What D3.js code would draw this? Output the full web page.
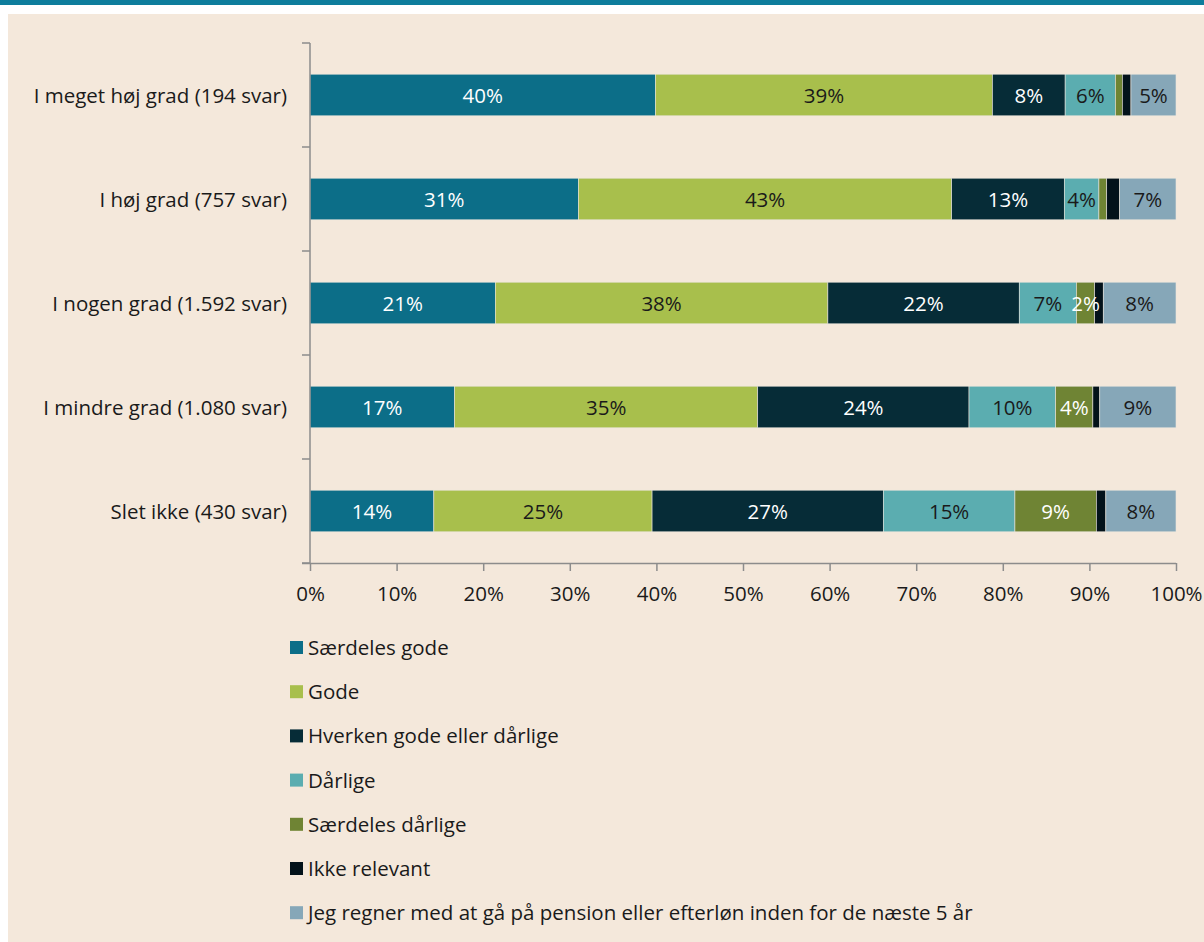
<!DOCTYPE html>
<html><head><meta charset="utf-8">
<script src="https://cdn.jsdelivr.net/npm/d3@7"></script>
<style>
html,body{margin:0;padding:0;background:#fff;}
svg{display:block;font-family:"Open Sans","Noto Sans",sans-serif;}
</style></head>
<body>
<svg id="chart" width="1204" height="942"></svg>
<script>
const categories = ["I meget høj grad (194 svar)","I høj grad (757 svar)","I nogen grad (1.592 svar)","I mindre grad (1.080 svar)","Slet ikke (430 svar)"];
const seriesNames = ["Særdeles gode","Gode","Hverken gode eller dårlige","Dårlige","Særdeles dårlige","Ikke relevant","Jeg regner med at gå på pension eller efterløn inden for de næste 5 år"];
const saerdelesGode = [39.9, 31.0, 21.4, 16.7, 14.3];
const gode = [38.9, 43.1, 38.4, 35.0, 25.2];
const hverken = [8.4, 13.0, 22.1, 24.4, 26.7];
const daarlige = [5.8, 4.0, 6.6, 10.0, 15.2];
const saerdelesDaarlige = [0.8, 0.9, 2.1, 4.3, 9.4];
const ikkeRelevant = [1.0, 1.5, 1.0, 0.8, 1.1];
const pension = [5.2, 6.5, 8.4, 8.8, 8.1];
const xTicks = [0,10,20,30,40,50,60,70,80,90,100];

const seriesValues = [saerdelesGode, gode, hverken, daarlige, saerdelesDaarlige, ikkeRelevant, pension];
const colors = ["#0c6e88","#a8bf4c","#062c37","#5badb0","#6f8434","#03121a","#86a7b8"];
const labelColors = ["#ffffff","#1a1a1a","#ffffff","#1a1a1a","#ffffff","#ffffff","#1a1a1a"];
const FS = 20.5;

const svg = d3.select("#chart");
svg.append("rect").attr("x",0).attr("y",0).attr("width",1204).attr("height",942).attr("fill","#ffffff");
svg.append("rect").attr("x",0).attr("y",0).attr("width",1204).attr("height",5).attr("fill","#0e7d9c");
svg.append("rect").attr("x",8).attr("y",14).attr("width",1196).attr("height",928).attr("fill","#f4e8db");

const x = d3.scaleLinear().domain([0,100]).range([310,1176]);
const y = d3.scaleBand().domain(categories).range([43,563]).paddingInner(0.6).paddingOuter(0.3);

const rows = categories.map((c,i)=>{
  let acc = 0;
  return seriesValues.map((s,k)=>{ const d={cat:c,k:k,v:s[i],x0:acc,x1:acc+s[i]}; acc+=s[i]; return d; });
});

const g = svg.append("g");
rows.forEach(row=>{
  g.selectAll(null).data(row).enter().append("rect")
    .attr("x",d=>x(d.x0)).attr("y",d=>y(d.cat))
    .attr("width",d=>x(d.x1)-x(d.x0)).attr("height",y.bandwidth())
    .attr("fill",d=>colors[d.k])
    .attr("stroke","#e9e4dc").attr("stroke-width",0.6);
  g.selectAll(null).data(row.filter(d=>d.v>=2)).enter().append("text")
    .attr("x",d=>x((d.x0+d.x1)/2)).attr("y",d=>y(d.cat)+y.bandwidth()/2)
    .attr("text-anchor","middle").attr("dominant-baseline","central")
    .attr("font-size",FS).attr("fill",d=>labelColors[d.k])
    .text(d=>Math.round(d.v)+"%");
});

// Y axis
const yAxisG = svg.append("g");
yAxisG.append("line").attr("x1",310).attr("x2",310).attr("y1",43).attr("y2",563).attr("stroke","#8c8c8c").attr("stroke-width",1.5);
const bounds = d3.range(categories.length+1).map(i=>43+i*(520/categories.length));
yAxisG.selectAll(null).data(bounds).enter().append("line")
  .attr("x1",302).attr("x2",310).attr("y1",d=>d).attr("y2",d=>d)
  .attr("stroke","#8c8c8c").attr("stroke-width",1.5);
yAxisG.selectAll(null).data(categories).enter().append("text")
  .attr("x",287).attr("y",d=>y(d)+y.bandwidth()/2)
  .attr("text-anchor","end").attr("dominant-baseline","central")
  .attr("font-size",FS).attr("fill","#1a1a1a").text(d=>d);

// X axis
const xAxis = d3.axisBottom(x).tickValues(xTicks).tickFormat(d=>d+"%").tickSize(8).tickSizeOuter(0);
const xg = svg.append("g").attr("transform","translate(0,563)").call(xAxis);
xg.select(".domain").attr("stroke","#8c8c8c").attr("stroke-width",1.5).attr("d","M302,0.5H1176");
xg.selectAll(".tick line").attr("stroke","#8c8c8c").attr("stroke-width",1.5);
xg.selectAll(".tick text").attr("font-size",FS).attr("fill","#1a1a1a").attr("dy",0).attr("y",30)
  .attr("dominant-baseline","central")
  .attr("font-family","'Open Sans','Noto Sans',sans-serif");

// Legend
const lg = svg.append("g");
seriesNames.forEach((n,k)=>{
  const cy = 647 + k*44.2;
  lg.append("rect").attr("x",290).attr("y",cy-6).attr("width",13).attr("height",13).attr("fill",colors[k]);
  lg.append("text").attr("x",308).attr("y",cy).attr("dominant-baseline","central")
    .attr("font-size",FS).attr("fill","#1a1a1a").text(n);
});
</script>
</body></html>
